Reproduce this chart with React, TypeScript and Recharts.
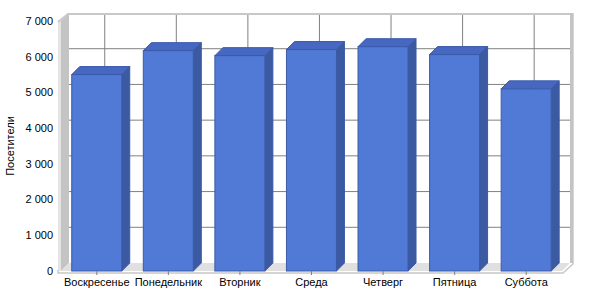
import React from "react";
import { BarChart, Bar, XAxis, YAxis, CartesianGrid, ReferenceArea } from "recharts";

const DAYS = ["Воскресенье", "Понедельник", "Вторник", "Среда", "Четверг", "Пятница", "Суббота"];
const VISITORS = [5500, 6170, 6030, 6200, 6280, 6060, 5100];
const Y_TICKS = [0, 1000, 2000, 3000, 4000, 5000, 6000, 7000];

const data = DAYS.map((day, i) => ({ day, visitors: VISITORS[i] }));

const D = 8; // depth offset of the 3d look
const FONT = "'Liberation Sans', Arial, sans-serif";
const GRID = "#808080";

const fmt = (v: number) => String(v).replace(/\B(?=(\d{3})+(?!\d))/g, " ");

// walls, floor and frame of the 3d box
const Frame = (p: any) => {
  const { x, y, width: w, height: h } = p;
  return (
    <g>
      <polygon points={`${x},${y} ${x + D},${y - D} ${x + D},${y + h - D} ${x},${y + h}`} fill="#c4c4c4" />
      <polygon points={`${x - 3},${y + 1} ${x},${y} ${x},${y + h} ${x - 3},${y + h}`} fill="#e4e4e4" />
      <polyline points={`${x - 3},${y + 1} ${x + D - 1},${y - D + 1} ${x + w + D + 3},${y - D + 1}`}
        fill="none" stroke="#c8c8c8" strokeWidth={2} />
      <polygon points={`${x},${y + h} ${x + D},${y + h - D} ${x + w + D},${y + h - D} ${x + w},${y + h}`} fill="#e0e0e0" />
      <polyline points={`${x - 3},${y + h - 1} ${x - 3},${y + h + 2} ${x + w + 1},${y + h + 2} ${x + w + D + 3},${y + h - D + 1} ${x + w + D + 3},${y - D}`}
        fill="none" stroke="#c8c8c8" strokeWidth={1.5} />
      <line x1={x + w + D + 1.5} y1={y - D} x2={x + w + D + 1.5} y2={y + h - D} stroke="#c4c4c4" strokeWidth={3} />
    </g>
  );
};

const HLine = (p: any) => {
  const { x1, x2, y1, y, height, index } = p;
  if (Math.abs(y1 - y) < 0.5 || Math.abs(y1 - (y + height)) < 0.5) return <g key={`h-${index}`} />;
  return (
    <polyline key={`h-${index}`} points={`${x1 - 3},${y1 + 2} ${x1 + D},${y1 - D} ${x2 + D},${y1 - D}`}
      fill="none" stroke={GRID} strokeWidth={1} />
  );
};

// back-wall vertical grid line through each category
const BackLine = (p: any) => {
  const { x, y, width, height, index } = p;
  const cx = x + width / 2 + D;
  return <line key={`v-${index}`} x1={cx} y1={y - D} x2={cx} y2={y + height - D} stroke={GRID} strokeWidth={1} />;
};

const Box = (p: any) => {
  const { x, y, width: w, height: h } = p;
  return (
    <g>
      <polygon points={`${x},${y} ${x + D},${y - D} ${x + w + D},${y - D} ${x + w},${y}`} fill="#4668c2" stroke="#3b5aa8" strokeWidth={1} />
      <polygon points={`${x + w},${y} ${x + w + D},${y - D} ${x + w + D},${y + h - D} ${x + w},${y + h}`} fill="#3c5aa2" stroke="#3b5aa8" strokeWidth={1} />
      <rect x={x} y={y} width={w} height={h} fill="#507ad6" stroke="#3b5aa8" strokeWidth={1} />
    </g>
  );
};

const YLabel = (p: any) => {
  const { viewBox } = p;
  const cx = viewBox.x + 10;
  const cy = viewBox.y + viewBox.height / 2;
  return (
    <text x={cx} y={cy} transform={`rotate(-90 ${cx} ${cy})`} textAnchor="middle" dominantBaseline="central"
      style={{ fontSize: 11, fontFamily: FONT, fill: "#000" }}>
      Посетители
    </text>
  );
};

export default function App() {
  return (
    <div style={{ position: "absolute", left: 0, top: 0, width: 600, height: 300, background: "#fff" }}>
      <BarChart width={600} height={300} data={data} margin={{ top: 21, right: 38, bottom: 0, left: 0 }} barCategoryGap="15%">
        <ReferenceArea y1={0} y2={7000} shape={Frame} ifOverflow="visible" />
        <CartesianGrid vertical={false} horizontal={HLine} />
        <XAxis dataKey="day" height={29} axisLine={false} tickSize={4} tickMargin={3}
          tickLine={{ stroke: GRID }} tick={{ fontSize: 11, fill: "#000", fontFamily: FONT }} interval={0} />
        <YAxis width={61} domain={[0, 7000]} ticks={Y_TICKS} tickFormatter={fmt} axisLine={false} tickLine={false}
          tick={{ fontSize: 11, fill: "#000", fontFamily: FONT }} label={<YLabel />} />
        <Bar dataKey="visitors" shape={Box} background={BackLine} isAnimationActive={false} />
      </BarChart>
    </div>
  );
}
